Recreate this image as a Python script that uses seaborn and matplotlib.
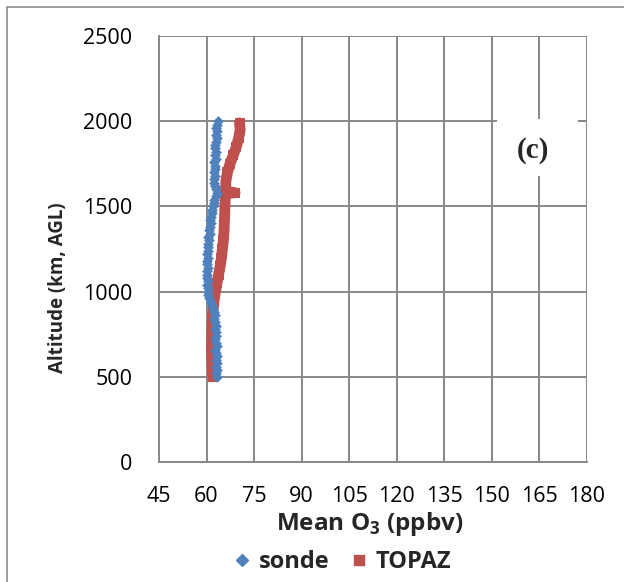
import matplotlib
matplotlib.use("Agg")
import matplotlib.pyplot as plt
import seaborn as sns
import pandas as pd
from matplotlib.lines import Line2D
from matplotlib.patches import Rectangle

# ---- data ----
sonde_alt = list(range(500, 2001, 20))
sonde_o3 = [63.3, 63.1, 63.4, 63.0, 63.2, 62.9, 63.3, 63.1, 62.8, 63.2,
            63.0, 62.7, 63.1, 62.9, 62.6, 63.0, 62.7, 62.4, 62.6, 62.2,
            61.9, 61.6, 61.3, 60.9, 60.6, 60.4, 60.5, 60.2, 60.3, 60.0,
            60.2, 60.1, 60.4, 60.2, 60.0, 60.3, 60.1, 60.5, 60.3, 60.6,
            60.8, 60.6, 61.0, 60.8, 61.2, 61.3, 61.1, 61.5, 61.7, 61.6,
            62.0, 62.2, 62.5, 62.9, 63.4, 63.1, 62.6, 62.3, 62.5, 62.7,
            62.4, 62.6, 62.8, 62.5, 62.9, 62.7, 63.0, 62.8, 62.6, 63.0,
            63.2, 62.9, 63.3, 63.1, 63.4, 63.6]

topaz_alt = [500, 550, 600, 650, 700, 750, 800, 850, 900, 950, 1000, 1050,
             1100, 1150, 1200, 1250, 1300, 1350, 1400, 1450, 1500, 1550,
             1575, 1580, 1590, 1650, 1700, 1750, 1800, 1850, 1900, 1950, 1990]
topaz_o3 = [62.0, 61.8, 61.7, 61.6, 61.6, 61.7, 61.8, 61.9, 62.1, 62.4, 62.8, 63.3,
            63.8, 64.3, 64.7, 65.0, 65.3, 65.5, 65.6, 65.7, 65.8, 65.9,
            66.0, 69.0, 66.0, 66.1, 66.6, 67.4, 68.4, 69.4, 70.1, 70.6, 70.4]

x_ticks = [45, 60, 75, 90, 105, 120, 135, 150, 165, 180]
y_ticks = [0, 500, 1000, 1500, 2000, 2500]
series_names = ["sonde", "TOPAZ"]

BLUE = "#4F81BD"
RED = "#C0504D"
GRID = "#878787"
FONT = ["Open Sans", "DejaVu Sans"]

sns.set_style("white")
plt.rcParams["font.family"] = FONT
plt.rcParams["mathtext.fontset"] = "custom"
plt.rcParams["mathtext.rm"] = "Open Sans"
plt.rcParams["mathtext.bf"] = "Open Sans:bold"

fig = plt.figure(figsize=(6.24, 5.82), dpi=100)
ax = fig.add_axes([159 / 624, 1 - 462 / 582, (587 - 159) / 624, (462 - 36) / 582])

df_s = pd.DataFrame({"o3": sonde_o3, "alt": sonde_alt})
df_t = pd.DataFrame({"o3": topaz_o3, "alt": topaz_alt})

sns.lineplot(data=df_t, x="o3", y="alt", sort=False, estimator=None, ax=ax,
             color=RED, linewidth=7.8, marker="s", markersize=7.8,
             markeredgewidth=0, zorder=3, legend=False)
sns.scatterplot(data=df_s, x="o3", y="alt", ax=ax, color=BLUE, marker="D",
                s=30, linewidth=0, zorder=4, legend=False)

ax.set_xlim(45, 180)
ax.set_ylim(0, 2500)
ax.set_xticks(x_ticks)
ax.set_yticks(y_ticks)
ax.grid(True, color=GRID, linewidth=1.4)
ax.set_axisbelow(True)
for s in ["top", "right"]:
    ax.spines[s].set_visible(False)
for s in ["left", "bottom"]:
    ax.spines[s].set_color(GRID)
    ax.spines[s].set_linewidth(1.4)
ax.tick_params(axis="both", direction="out", length=6, width=1.4, color=GRID,
               labelsize=15.5, labelcolor="black")
ax.tick_params(axis="y", pad=13)
ax.tick_params(axis="x", pad=11)
ax.set_xlabel("")
ax.set_ylabel("Altitude (km, AGL)", fontsize=13.5, fontweight="bold")
ax.yaxis.set_label_coords(-0.212, 0.41)

fig.text(370 / 624, 1 - 524 / 582, r"Mean O$_{\mathbf{3}}$ (ppbv)", fontsize=17.5,
         fontweight="bold", ha="center", va="center")

handles = [Line2D([], [], linestyle="none", marker="D", color=BLUE, markersize=6.5),
           Line2D([], [], linestyle="none", marker="s", color=RED, markersize=7)]
fig.legend(handles, series_names, loc="center", bbox_to_anchor=(341 / 624, 1 - 562 / 582),
           ncol=2, frameon=False, prop={"weight": "bold", "size": 17},
           handletextpad=0.25, columnspacing=0.8, handlelength=0.9)

# "(c)" panel label with white background
fig.add_artist(Rectangle((497 / 624, 1 - 176 / 582), 81 / 624, 57 / 582,
                         transform=fig.transFigure, facecolor="white",
                         edgecolor="none", zorder=5))
fig.text(533 / 624, 1 - 150 / 582, "(c)", fontsize=21, fontweight="bold",
         family="Liberation Serif", ha="center", va="center", zorder=6)

# chart-area border
fig.add_artist(Rectangle((7 / 624, -0.05), 1.1, 1 - 7 / 582 + 0.05,
                         transform=fig.transFigure, facecolor="none",
                         edgecolor="#8c8c8c", linewidth=1.2, zorder=7))

fig.savefig("out.png", dpi=100)
